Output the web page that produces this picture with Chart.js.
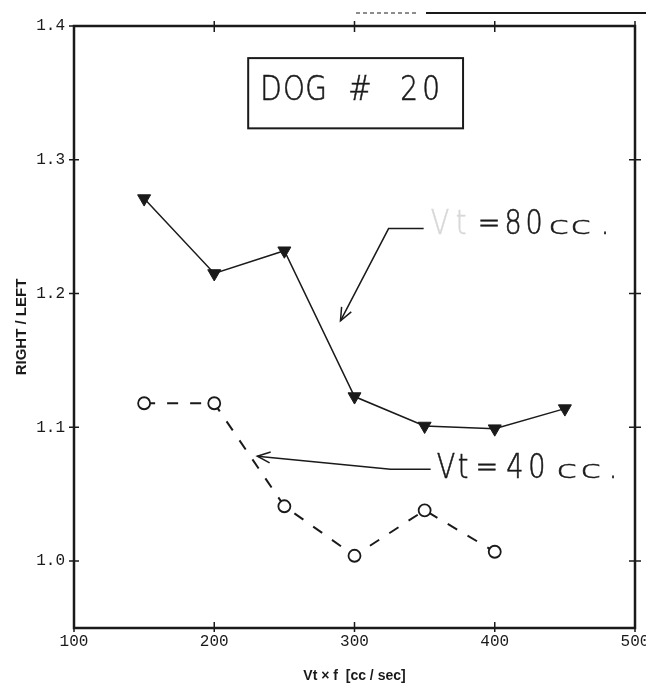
<!DOCTYPE html>
<html>
<head>
<meta charset="utf-8">
<script src="https://cdn.jsdelivr.net/npm/chart.js@4"></script>
<style>
  body { margin: 0; background: #fff; }
  #chart { display: block; }
</style>
</head>
<body>
<canvas id="chart" width="646" height="685"></canvas>
<script>
// flow rate Vt*f (cc/sec) and right/left ratio for each tidal volume
const flow80 = [150, 200, 250, 300, 350, 400, 450];
const ratio80 = [1.271, 1.215, 1.232, 1.123, 1.101, 1.099, 1.114];

const flow40 = [150, 200, 250, 300, 350, 400];
const ratio40 = [1.118, 1.118, 1.041, 1.004, 1.038, 1.007];

const xTicks = [100, 200, 300, 400, 500];
const yTicks = [1.0, 1.1, 1.2, 1.3, 1.4];

const ink = '#1a1a1a';
const mono = '"Liberation Mono", "DejaVu Sans Mono", monospace';
const thin = '200 33px "DejaVu Sans", sans-serif';

const toPoints = (xs, ys) => xs.map((x, i) => ({ x: x, y: ys[i] }));

// plotter-style lettering: narrow capitals, short wide "c", each glyph at a centre offset
const drawGlyphs = (ctx, text, x0, baseline, offsets, colors) => {
    ctx.textAlign = 'center';
    ctx.textBaseline = 'alphabetic';
    [...text].forEach((ch, i) => {
        ctx.save();
        ctx.translate(x0 + offsets[i], baseline);
        if (ch === 'c') ctx.scale(1.15, 0.76); else ctx.scale(0.82, 1);
        const col = colors ? colors[i] : ink;
        ctx.fillStyle = col;
        ctx.strokeStyle = col;
        ctx.lineWidth = 0.6;
        ctx.setLineDash([]);
        ctx.fillText(ch, 0, 0);
        ctx.strokeText(ch, 0, 0);
        ctx.restore();
    });
};

// frame, crossing tick marks, the title box and the two arrow labels
const plotDecor = {
    id: 'plotDecor',
    afterDraw(chart) {
        const ctx = chart.ctx;
        const xs = chart.scales.x;
        const ys = chart.scales.y;
        const { left, right, top, bottom } = chart.chartArea;
        const px = v => xs.getPixelForValue(v);
        const py = v => ys.getPixelForValue(v);

        ctx.save();
        ctx.strokeStyle = ink;
        ctx.lineCap = 'butt';

        // rule above the frame
        ctx.lineWidth = 1;
        ctx.setLineDash([4, 3]);
        ctx.beginPath();
        ctx.moveTo(356, 13); ctx.lineTo(416, 13);
        ctx.stroke();
        ctx.setLineDash([]);
        ctx.lineWidth = 2;
        ctx.beginPath();
        ctx.moveTo(426, 13); ctx.lineTo(646, 13);
        ctx.stroke();

        // frame
        ctx.lineWidth = 2.5;
        ctx.strokeRect(left, top, right - left, bottom - top);

        // tick marks crossing each side
        ctx.lineWidth = 1.5;
        ctx.beginPath();
        yTicks.forEach(v => {
            const y = py(v);
            ctx.moveTo(left - 5, y); ctx.lineTo(left + 5, y);
            if (v < 1.4) { ctx.moveTo(right - 6, y); ctx.lineTo(right + 6, y); }
        });
        xTicks.forEach(v => {
            const x = px(v);
            ctx.moveTo(x, bottom - 6); ctx.lineTo(x, bottom + 4);
            if (v > 100) { ctx.moveTo(x, top - 5); ctx.lineTo(x, top + 6); }
        });
        ctx.stroke();

        // title box
        const bx0 = px(224.2), bx1 = px(377.4), by0 = py(1.376), by1 = py(1.3235);
        ctx.lineWidth = 2;
        ctx.strokeRect(bx0, by0, bx1 - bx0, by1 - by0);
        ctx.font = '200 34px "DejaVu Sans", sans-serif';
        drawGlyphs(ctx, 'DOG # 20', px(240.5), py(1.3445),
            [0, 23, 45, 0, 89, 0, 138, 160]);

        // arrow helper: polyline ending in an open head
        const arrow = (pts) => {
            ctx.strokeStyle = ink;
            ctx.lineWidth = 1.5;
            ctx.beginPath();
            pts.forEach((p, i) => {
                const X = px(p[0]), Y = py(p[1]);
                if (i === 0) ctx.moveTo(X, Y); else ctx.lineTo(X, Y);
            });
            ctx.stroke();
            const a = pts[pts.length - 2], b = pts[pts.length - 1];
            const ax = px(a[0]), ay = py(a[1]), bx = px(b[0]), by = py(b[1]);
            const ang = Math.atan2(by - ay, bx - ax);
            const len = 14, spread = 0.4;
            ctx.beginPath();
            ctx.moveTo(bx - len * Math.cos(ang - spread), by - len * Math.sin(ang - spread));
            ctx.lineTo(bx, by);
            ctx.lineTo(bx - len * Math.cos(ang + spread), by - len * Math.sin(ang + spread));
            ctx.stroke();
        };

        arrow([[349.3, 1.2486], [324.3, 1.2486], [290, 1.1796]]);
        arrow([[354.3, 1.0687], [325.7, 1.0687], [230.7, 1.0784]]);

        // series labels; the "Vt" of the upper one is printed very faintly
        ctx.font = thin;
        const faint = '#d8d8d8';
        drawGlyphs(ctx, 'Vt=80cc.', px(361), py(1.2448),
            [0, 21, 49, 73, 94, 119, 141, 165],
            [faint, faint, ink, ink, ink, ink, ink, ink]);
        drawGlyphs(ctx, 'Vt=40cc.', px(365.2), py(1.062),
            [0, 17, 41, 69, 91, 121, 145, 167]);

        ctx.restore();
    }
};

const data = {
    datasets: [
        {
            label: 'Vt=80cc.',
            data: toPoints(flow80, ratio80),
            borderColor: ink,
            borderWidth: 1.5,
            pointStyle: 'triangle',
            rotation: 180,
            pointRadius: 7.5,
            pointBackgroundColor: ink,
            pointBorderColor: ink,
            pointBorderWidth: 1,
            tension: 0
        },
        {
            label: 'Vt=40cc.',
            data: toPoints(flow40, ratio40),
            borderColor: ink,
            borderWidth: 2,
            borderDash: [11, 12],
            pointStyle: 'circle',
            pointRadius: 6,
            pointBackgroundColor: '#fff',
            pointBorderColor: ink,
            pointBorderWidth: 1.8,
            tension: 0
        }
    ]
};

const config = {
    type: 'line',
    data: data,
    options: {
        responsive: false,
        animation: false,
        devicePixelRatio: 1,
        layout: { padding: { top: 26, right: 11, left: 0, bottom: 0 } },
        plugins: {
            legend: { display: false },
            tooltip: { enabled: false }
        },
        scales: {
            x: {
                type: 'linear',
                min: 100,
                max: 500,
                afterBuildTicks: s => { s.ticks = xTicks.map(v => ({ value: v })); },
                afterFit: s => {
                    s.height = 57;
                    s.paddingLeft = 0;
                    s.paddingRight = 0;
                },
                grid: { display: false, tickLength: 0 },
                border: { display: false },
                ticks: {
                    padding: 4,
                    color: ink,
                    maxRotation: 0,
                    font: { family: mono, size: 16 },
                    callback: v => String(v)
                },
                title: {
                    display: true,
                    text: 'Vt × f  [cc / sec]',
                    color: ink,
                    padding: { top: 2, bottom: 0 },
                    font: { family: '"Liberation Sans", Arial, sans-serif', size: 14, weight: 'bold' }
                }
            },
            y: {
                min: 0.95,
                max: 1.4,
                afterBuildTicks: s => { s.ticks = yTicks.map(v => ({ value: v })); },
                afterFit: s => {
                    s.width = 74;
                    s.paddingTop = 0;
                    s.paddingBottom = 0;
                },
                grid: { display: false, tickLength: 0 },
                border: { display: false },
                ticks: {
                    padding: 9,
                    color: ink,
                    font: { family: mono, size: 16 },
                    callback: v => v.toFixed(1)
                },
                title: {
                    display: true,
                    text: 'RIGHT / LEFT',
                    color: ink,
                    padding: { top: 13, bottom: 0 },
                    font: { family: '"Liberation Sans", Arial, sans-serif', size: 15, weight: 'bold' }
                }
            }
        }
    },
    plugins: [plotDecor]
};

new Chart(document.getElementById('chart'), config);
</script>
</body>
</html>
